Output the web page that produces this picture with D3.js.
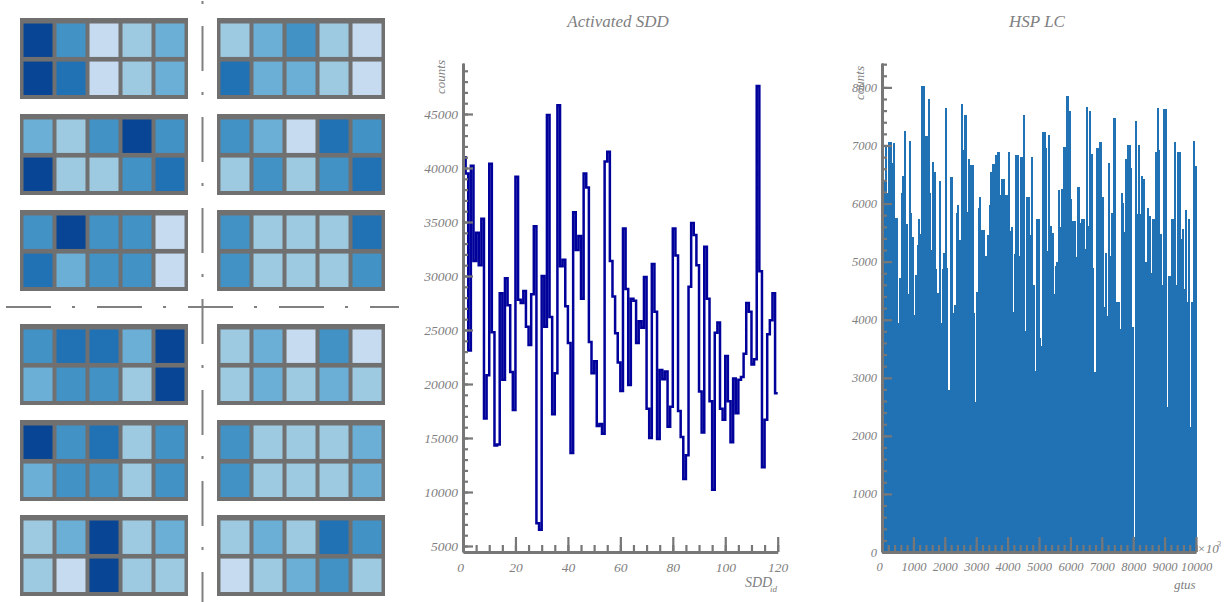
<!DOCTYPE html>
<html lang="en">
<head>
    <meta charset="UTF-8">
    <title>SDD</title>
    <script src="https://d3js.org/d3.v7.min.js"></script>
    <style>
        body { margin: 0; background: white; }
        text, .axis text {
            font-family: "Liberation Serif", serif;
            font-style: italic;
            fill: #808080;
        }
        .axis path, .axis line { stroke: #777; fill: none; }
    </style>
</head>
<body>
<script>
    // activity level (0 - 5) of each cell, one list per module, rows of five
    const moduleA = [5, 3, 0, 1, 2, 5, 4, 0, 1, 2]
    const moduleB = [1, 2, 3, 1, 0, 4, 2, 2, 1, 0]
    const moduleC = [2, 1, 3, 5, 3, 5, 1, 1, 3, 4]
    const moduleD = [3, 2, 0, 4, 3, 1, 3, 1, 3, 4]
    const moduleE = [3, 5, 3, 3, 0, 4, 2, 3, 3, 0]
    const moduleF = [3, 1, 1, 1, 4, 3, 1, 1, 1, 3]
    const moduleG = [3, 4, 4, 2, 5, 2, 3, 3, 1, 5]
    const moduleH = [1, 2, 0, 3, 0, 1, 2, 1, 2, 1]
    const moduleI = [5, 3, 4, 1, 3, 2, 3, 3, 1, 3]
    const moduleJ = [3, 1, 1, 1, 2, 3, 1, 1, 1, 2]
    const moduleK = [1, 2, 5, 1, 2, 1, 0, 5, 1, 1]
    const moduleL = [1, 2, 1, 4, 3, 0, 1, 2, 3, 1]
    const modules = [moduleA, moduleB, moduleC, moduleD, moduleE, moduleF,
        moduleG, moduleH, moduleI, moduleJ, moduleK, moduleL]
    const levelColors = ['#c6dbef', '#9ecae1', '#6baed6', '#4292c6', '#2171b5', '#084594']

    // counts per SDD
    const sddCounts = [
        41000, 39500, 23100, 40200, 31400, 34000, 31000, 35300, 16800, 20800,
        40400, 24800, 14300, 14400, 28400, 20400, 29800, 27300, 21100, 17600,
        39200, 27800, 27500, 28600, 25300, 23600, 28300, 34600, 7100, 6500,
        30000, 25300, 44900, 26200, 17200, 21000, 45800, 30900, 31500, 27200,
        23800, 13600, 35900, 32400, 33700, 27900, 39500, 38200, 23900, 21000,
        22100, 16100, 16300, 15400, 40600, 41500, 31400, 28100, 24700, 22000,
        19350, 34400, 28800, 19900, 27900, 27700, 23800, 25800, 25200, 29900,
        17700, 15000, 31100, 26700, 14900, 21300, 20450, 21150, 16050, 17900,
        34400, 31900, 17500, 15100, 11200, 13400, 29000, 34900, 33800, 31000,
        19300, 15500, 32700, 27900, 18400, 10200, 24750, 25700, 17700, 16700,
        22600, 18400, 14600, 20500, 17300, 20400, 20650, 22800, 27500, 26700,
        21800, 22300, 47600, 30450, 12300, 16700, 24600, 25900, 28400, 19150]

    // HSP light curve, one value per 50 gtus
    const hspCounts = [
        6520, 6400, 7000, 6175, 7065, 7065, 6690, 7050, 5745, 5745,
        3940, 4720, 6180, 6470, 7250, 5650, 4440, 7070, 5830, 5430,
        4080, 4770, 5285, 5740, 5480, 8020, 8020, 7170, 7170, 7800,
        6180, 5200, 6720, 6550, 4870, 4466, 6390, 3950, 4870, 5150,
        7640, 4890, 2790, 6450, 6450, 4110, 4250, 5840, 5980, 5380,
        7720, 6930, 7520, 7520, 5860, 6770, 6660, 6660, 4110, 2580,
        4470, 5930, 6110, 5550, 5550, 5090, 5090, 5450, 5980, 6550,
        6680, 6680, 6830, 6880, 6880, 6150, 6420, 6420, 6150, 6150,
        6880, 5530, 5590, 4130, 5130, 6840, 6840, 5100, 6800, 6800,
        7530, 3810, 6110, 6110, 5460, 6800, 4600, 3120, 5730, 5730,
        3690, 3540, 7240, 7240, 6950, 5180, 7180, 5620, 5500, 4440,
        4930, 5000, 6240, 5600, 6250, 6980, 6980, 7860, 7860, 7590,
        6080, 5700, 5700, 5080, 6290, 6290, 5660, 5730, 5730, 5210,
        7670, 5610, 7600, 6850, 4890, 3100, 6950, 6950, 7060, 7060,
        6110, 4225, 5150, 4070, 6700, 5100, 5830, 7470, 7470, 4300,
        4300, 3840, 6190, 6010, 5510, 6760, 7000, 7000, 6610, 3870,
        250, 7420, 5820, 7000, 5820, 6480, 6430, 5000, 5000, 5920,
        5790, 4800, 5740, 5740, 6890, 7650, 6920, 5480, 4590, 7620,
        7620, 2500, 4760, 4760, 5740, 5740, 7060, 4600, 6880, 6880,
        5390, 5570, 4530, 5890, 4310, 5740, 2160, 4310, 7080, 6640]

    const sddYTicks = [5000, 10000, 15000, 20000, 25000, 30000, 35000, 40000, 45000]
    const sddXTicks = [0, 20, 40, 60, 80, 100, 120]
    const hspYTicks = [0, 1000, 2000, 3000, 4000, 5000, 6000, 7000, 8000]
    const hspXTicks = [0, 1000, 2000, 3000, 4000, 5000, 6000, 7000, 8000, 9000, 10000]

    const svg = d3.select("body").append("svg")
        .attr("width", 1225)
        .attr("height", 602)

    // ---- left panel, the detector modules
    const moduleX = [20, 217]
    const moduleY = [18, 114, 210, 324, 420, 515]
    const moduleW = 168
    const moduleH_ = 81
    const cellX = d3.scaleBand().domain(d3.range(5)).range([3.5, 164.5]).paddingInner(0.122)
    const cellY = d3.scaleBand().domain(d3.range(2)).range([5.5, 77]).paddingInner(0.122)

    const moduleGroups = svg.selectAll("g.module")
        .data(modules)
        .enter()
        .append("g")
        .attr("class", "module")
        .attr("transform", function (d, i) {
            return "translate(" + moduleX[i % 2] + "," + moduleY[Math.floor(i / 2)] + ")"
        })
    moduleGroups.append("rect")
        .attr("width", moduleW)
        .attr("height", moduleH_)
        .attr("fill", "#707070")
    moduleGroups.selectAll("rect.cell")
        .data(function (d) { return d })
        .enter()
        .append("rect")
        .attr("class", "cell")
        .attr("x", function (d, i) { return cellX(i % 5) })
        .attr("y", function (d, i) { return cellY(Math.floor(i / 5)) })
        .attr("width", cellX.bandwidth())
        .attr("height", cellY.bandwidth())
        .attr("fill", function (d) { return levelColors[d] })

    // dash-dot centre lines
    svg.append("line")
        .attr("x1", 6).attr("x2", 399).attr("y1", 307).attr("y2", 307)
        .attr("stroke", "#808080").attr("stroke-width", 2)
        .attr("stroke-dasharray", "45 21 3 22")
    svg.append("line")
        .attr("x1", 202.5).attr("x2", 202.5).attr("y1", -65).attr("y2", 602)
        .attr("stroke", "#808080").attr("stroke-width", 2)
        .attr("stroke-dasharray", "45 21 3 22")

    // inward minor and major ticks, labels only on the major ones
    function drawAxes(x, y, xMajor, xMinor, yMajor, yMinor, fontSize) {
        const bottom = y.range()[0]
        const left = x.range()[0]
        const gx = svg.append("g").attr("class", "axis").attr("transform", "translate(0," + bottom + ")")
        gx.append("g")
            .call(d3.axisBottom(x).tickValues(xMinor).tickSizeInner(-7).tickSizeOuter(0).tickFormat(""))
            .call(g => g.selectAll("line").attr("stroke-width", 2.2))
        gx.append("g")
            .call(d3.axisBottom(x).tickValues(xMajor).tickSizeInner(-15).tickSizeOuter(0).tickPadding(10).tickFormat(d3.format("d")))
            .call(g => g.selectAll("line").attr("stroke-width", 2.2))
            .call(g => g.select("path").attr("stroke-width", 3))
            .call(g => g.selectAll("text").attr("font-size", fontSize))
            .call(g => g.selectAll("text").filter(d => d === 0).attr("dx", -3))
        const gy = svg.append("g").attr("class", "axis").attr("transform", "translate(" + left + ",0)")
        gy.append("g")
            .call(d3.axisLeft(y).tickValues(yMinor).tickSizeInner(-5).tickSizeOuter(0).tickFormat(""))
            .call(g => g.selectAll("line").attr("stroke-width", 2.2))
        gy.append("g")
            .call(d3.axisLeft(y).tickValues(yMajor).tickSizeInner(-10).tickSizeOuter(0).tickPadding(5).tickFormat(d3.format("d")))
            .call(g => g.selectAll("line").attr("stroke-width", 2.2))
            .call(g => g.select("path").attr("stroke-width", 3))
            .call(g => g.selectAll("text").attr("font-size", fontSize))
    }

    function label(txt, x, y, size, rotate) {
        const t = svg.append("text").text(txt).attr("font-size", size)
        if (rotate) {
            t.attr("transform", "translate(" + x + "," + y + ") rotate(-90)")
        } else {
            t.attr("x", x).attr("y", y)
        }
        return t
    }

    // ---- middle panel, SDD histogram
    const sddX = d3.scaleLinear().domain([0, 120]).range([463, 777.7])
    const sddY = d3.scaleLinear().domain([4444, 49722]).range([552, 63])
    const sddLine = d3.line()
        .x(function (d) { return sddX(d[0]) })
        .y(function (d) { return sddY(d[1]) })
        .curve(d3.curveStepAfter)
    const sddPoints = sddCounts.map(function (v, i) { return [i, v] })
    sddPoints.push([sddCounts.length, sddCounts[sddCounts.length - 1]])

    svg.append("path")
        .attr("d", sddLine(sddPoints))
        .attr("fill", "none")
        .attr("stroke", "#00009b")
        .attr("stroke-width", 2.5)

    drawAxes(sddX, sddY, sddXTicks, d3.range(0, 121, 5), sddYTicks, d3.range(5000, 50000, 1000), 13.5)
    label("Activated SDD", 618, 27, 17).attr("text-anchor", "middle")
    label("counts", 445, 94, 13, true)
    label("SDD", 745, 587, 14)
    label("id", 770, 592, 9)

    // ---- right panel, HSP light curve
    const hspX = d3.scaleLinear().domain([0, 10000]).range([882, 1196])
    const hspY = d3.scaleLinear().domain([0, 8420]).range([552, 63])
    const binWidth = 10000 / hspCounts.length

    svg.append("g")
        .attr("shape-rendering", "crispEdges")
        .selectAll("rect")
        .data(hspCounts)
        .enter()
        .append("rect")
        .attr("x", function (d, i) { return hspX(i * binWidth) })
        .attr("y", function (d) { return hspY(d) })
        .attr("width", hspX(binWidth) - hspX(0) + 0.5)
        .attr("height", function (d) { return hspY(0) - hspY(d) })
        .attr("fill", "#2171b5")

    drawAxes(hspX, hspY, hspXTicks, d3.range(0, 10001, 200), hspYTicks, d3.range(0, 8401, 200), 12.5)
    label("HSP LC", 1037, 27, 17).attr("text-anchor", "middle")
    label("counts", 864, 100, 13, true)
    label("gtus", 1174, 589, 13)
    label("×10", 1197, 553, 13)
    label("3", 1217, 547, 8)
</script>
</body>
</html>
